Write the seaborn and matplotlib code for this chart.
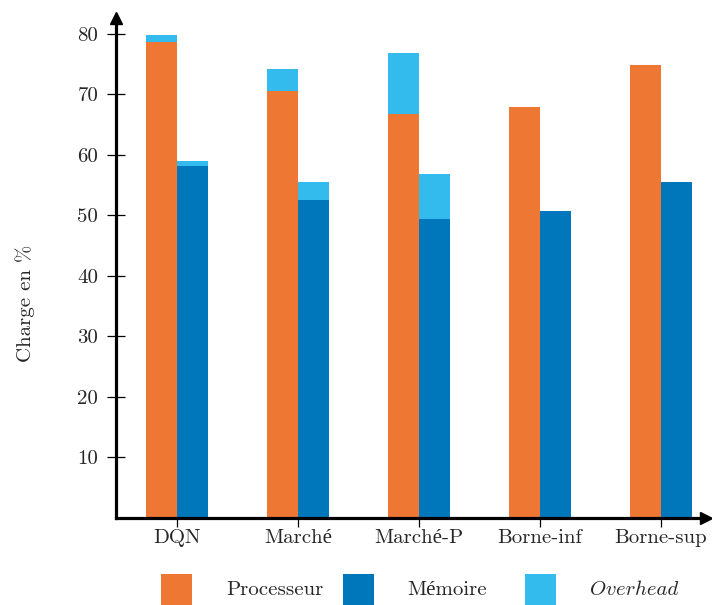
import matplotlib
matplotlib.use("Agg")
import matplotlib.pyplot as plt
import matplotlib.patches as mpatches
import seaborn as sns
import pandas as pd

groups = ["DQN", "Marché", "Marché-P", "Borne-inf", "Borne-sup"]
processeur = [78.7, 70.5, 66.7, 67.9, 74.9]
memoire = [58.1, 52.6, 49.4, 50.7, 55.5]
overhead_proc = [1.1, 3.7, 10.1, 0.0, 0.0]
overhead_mem = [0.9, 2.9, 7.4, 0.0, 0.0]
yticks = [10, 20, 30, 40, 50, 60, 70, 80]
ylabel = "Charge en %"
legend_labels = ["Processeur", "Mémoire", "Overhead"]

C_ORANGE = "#EE7733"
C_BLUE = "#0077BB"
C_CYAN = "#33BBEE"

sns.set_style("white")
plt.rcParams["font.family"] = ["cmr10", "Liberation Serif"]
plt.rcParams["axes.formatter.use_mathtext"] = True
plt.rcParams["mathtext.fontset"] = "cm"
FS = 15

base = pd.DataFrame({
    "group": groups * 2,
    "res": ["Processeur"] * 5 + ["Mémoire"] * 5,
    "value": processeur + memoire,
})
total = pd.DataFrame({
    "group": groups * 2,
    "res": ["Processeur"] * 5 + ["Mémoire"] * 5,
    "value": [p + o for p, o in zip(processeur, overhead_proc)]
    + [m + o for m, o in zip(memoire, overhead_mem)],
})

fig = plt.figure(figsize=(7.12, 6.05), dpi=100)
ax = fig.add_axes([116 / 712, (605 - 518) / 605, 590 / 712, 500 / 605])

hue_order = ["Processeur", "Mémoire"]
sns.barplot(data=total, x="group", y="value", hue="res", order=groups,
            hue_order=hue_order, palette={"Processeur": C_CYAN, "Mémoire": C_CYAN},
            width=0.512, dodge=True, saturation=1, linewidth=0, errorbar=None,
            legend=False, ax=ax)
sns.barplot(data=base, x="group", y="value", hue="res", order=groups,
            hue_order=hue_order, palette={"Processeur": C_ORANGE, "Mémoire": C_BLUE},
            width=0.512, dodge=True, saturation=1, linewidth=0, errorbar=None,
            legend=False, ax=ax)

ax.set_xlim(-0.5041, 4.3719)
ax.set_ylim(0, 82.64)
ax.set_yticks(yticks)
ax.set_yticklabels([str(t) for t in yticks], fontsize=FS)
ax.set_xticks(range(len(groups)))
ax.set_xticklabels(groups, fontsize=FS)
ax.set_xlabel("")
ax.set_ylabel(ylabel, fontsize=FS)
ax.yaxis.set_label_coords(-0.137, 0.43)

for s in ["top", "right"]:
    ax.spines[s].set_visible(False)
for s in ["left", "bottom"]:
    ax.spines[s].set_linewidth(2.3)
    ax.spines[s].set_color("black")

ax.tick_params(axis="both", direction="inout", length=13.5, width=0.9,
               color="black", left=True, bottom=True)
ax.tick_params(axis="y", pad=6)
ax.tick_params(axis="x", pad=1)

ax.plot(1, 0, marker=">", color="black", markersize=9, transform=ax.transAxes,
        clip_on=False)
ax.plot(0, 1, marker="^", color="black", markersize=9, transform=ax.transAxes,
        clip_on=False)

# legend below
colors = [C_ORANGE, C_BLUE, C_CYAN]
patch_x = [161, 343, 525]
text_x = [226, 407, 590]
for i, (c, lab) in enumerate(zip(colors, legend_labels)):
    fig.add_artist(mpatches.Rectangle((patch_x[i] / 712, 0), 31 / 712, 31 / 605,
                                      transform=fig.transFigure, color=c, lw=0))
    if lab == "Overhead":
        fig.text(text_x[i] / 712, 1 - 590 / 605, lab, fontsize=FS, family="cmmi10",
                 va="center", ha="left")
    else:
        fig.text(text_x[i] / 712, 1 - 590 / 605, lab, fontsize=FS,
                 va="center", ha="left")

fig.savefig("out.png", dpi=100)
